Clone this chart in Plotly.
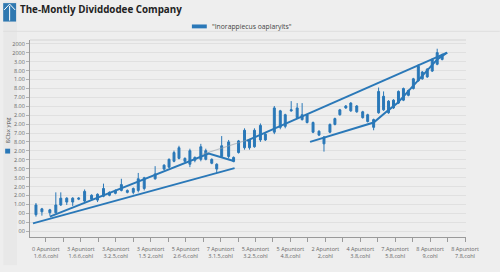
import plotly.graph_objects as go

# ---------------- data ----------------
candle_x = [33, 39, 47, 53, 58, 64, 70, 76, 82, 89, 95, 101, 107, 113, 119, 125, 131, 136, 142,
            153, 162, 167, 172, 177, 183, 188, 193, 199, 204, 210, 215, 220, 227, 232, 237, 243,
            248, 253, 259, 264, 273, 279, 284, 290, 296, 301, 306, 312, 318, 323, 329, 334, 339,
            345, 350, 356, 362, 367, 373, 378, 383, 388, 393, 398, 403, 408, 413, 418, 422, 427,
            432, 437, 442]
body_top = [33, 29, 28, 33, 40, 40, 40, 40, 47, 43, 44, 50, 46, 48, 54, 48, 50, 60, 61,
            65, 74, 80, 87, 92, 81, 89, 82, 93, 89, 80, 75, 94, 98, 82, 99, 110,
            100, 110, 115, 106, 133, 130, 126, 131, 133, 126, 126, 118, 109, 103, 116, 122, 131,
            135, 138, 135, 129, 126, 121, 150, 145, 140, 141, 150, 153, 151, 163, 176, 170, 173,
            183, 190, 188]
body_bot = [23, 26, 25, 25, 33, 36, 36, 39, 37, 39, 38, 42, 43, 45, 48, 46, 46, 48, 50,
            60, 70, 72, 78, 81, 78, 75, 79, 80, 80, 76, 70, 83, 83, 78, 87, 92,
            92, 93, 100, 100, 108, 113, 114, 130, 123, 121, 118, 108, 105, 96, 108, 116, 126,
            133, 130, 129, 123, 119, 113, 128, 131, 128, 133, 138, 141, 146, 153, 161, 163, 165,
            171, 178, 183]
wick_hi = [35, 30, 29, 46, 46, 41, 41, 41, 49, 44, 45, 55, 47, 49, 60, 49, 51, 66, 62,
           73, 75, 81, 89, 94, 82, 91, 83, 96, 91, 81, 76, 104, 100, 83, 100, 112,
           101, 112, 117, 107, 135, 131, 127, 140, 138, 138, 127, 119, 110, 104, 117, 123, 132,
           136, 139, 136, 130, 127, 122, 154, 150, 141, 142, 151, 154, 152, 164, 178, 171, 174,
           184, 194, 189]
wick_lo = [21, 22, 22, 24, 32, 33, 32, 38, 35, 38, 36, 41, 42, 44, 47, 45, 44, 46, 48,
           59, 69, 71, 77, 80, 77, 72, 77, 78, 79, 75, 66, 82, 81, 77, 86, 90,
           90, 92, 98, 99, 106, 111, 112, 129, 122, 120, 117, 107, 104, 88, 107, 115, 125,
           132, 129, 128, 122, 118, 110, 127, 130, 127, 132, 137, 140, 145, 152, 160, 162, 164,
           170, 177, 182]

# trend lines (x, value)
trend_low_x = [30, 233]
trend_low_y = [14, 71]
trend_mid_x = [47, 207, 233]
trend_mid_y = [21, 86, 78]
trend_gray_x = [200, 255]
trend_gray_y = [85, 103]
trend_top_x = [245, 307, 447]
trend_top_y = [99, 127, 190]
trend_right_x = [309, 373, 387, 397, 437, 447]
trend_right_y = [98, 118, 130, 138, 183, 190]

x_tick_vals = [43 + 35.17 * i for i in range(13)]
x_tick_row1 = ["0 Apuntort", "3 Apuntort", "3.Apuntort", "3 Apuntort", "5 Apuntort", "7 Apuntort",
               "5.Apuntort", "5 Apuntort", "2 Apuntort", "4 Apuntort", "7.Apuntort", "8 Apuntort",
               "8 Apuntort"]
x_tick_row2 = ["1.6.6,cohl", "1.6.6,cohl", "3.2.5,cohl", "1.5 2,cohl", "2.6-6,cohl", "3.1.5,cohl",
               "3.2.5,cohl", "4.8,cohl", "2,cohl", "3.8,cohl", "5.8,cohl", "9,cohl", "7.8,cohl"]
y_tick_vals = [199 - 9.19 * i for i in range(22)]
y_tick_text = ["2000", "2000", "3.00", "8.00", "1.00", "8.00", "7.00", "8.00", "2.00", "2.00",
               "7.00", "8.00", "2.00", "2.00", "5.00", "3.00", "2.00", "2.00", "1.00", "00",
               "00", "00"]

BLUE = "#2a78b8"

# ---------------- figure ----------------
L, R, T, B = 27, 34, 40, 29
W, H = 500, 272
pw, ph = W - L - R, H - T - B

def px(x):
    return (x - L) / pw

def py(y):
    return (H - B - y) / ph

fig = go.Figure()

fig.add_trace(go.Candlestick(
    x=candle_x, open=body_bot, close=body_top, high=wick_hi, low=wick_lo,
    increasing=dict(line=dict(color=BLUE, width=1), fillcolor=BLUE),
    decreasing=dict(line=dict(color=BLUE, width=1), fillcolor=BLUE),
    whiskerwidth=0, showlegend=False, hoverinfo="skip"))

for xs, ys, col, w in [(trend_gray_x, trend_gray_y, "rgba(150,160,170,0.6)", 1.2),
                       (trend_low_x, trend_low_y, BLUE, 2),
                       (trend_mid_x, trend_mid_y, BLUE, 2),
                       (trend_top_x, trend_top_y, BLUE, 2),
                       (trend_right_x, trend_right_y, BLUE, 2)]:
    fig.add_trace(go.Scatter(x=xs, y=ys, mode="lines", line=dict(color=col, width=w),
                             showlegend=False, hoverinfo="skip"))

tickfont = dict(family="Open Sans, DejaVu Sans, sans-serif", size=5.5, color="#666")

fig.update_layout(
    width=W, height=H,
    margin=dict(l=L, r=R, t=T, b=B, pad=0),
    paper_bgcolor="#eeeeee",
    plot_bgcolor="rgba(0,0,0,0)",
    showlegend=False,
    xaxis=dict(range=[27, 466], rangeslider=dict(visible=False), showgrid=False,
               zeroline=False, showline=True, linecolor="#9a9a9a", linewidth=1,
               tickmode="array", tickvals=x_tick_vals,
               ticktext=[a + "<br>" + b for a, b in zip(x_tick_row1, x_tick_row2)],
               ticks="outside", ticklen=4, tickcolor="#9a9a9a", tickfont=tickfont,
               ticklabelstandoff=2,
               minor=dict(ticks="outside", ticklen=4, tickcolor="#9a9a9a",
                          tick0=43 + 17.585, dtick=35.17, showgrid=False)),
    yaxis=dict(range=[0, 203], showgrid=True, gridcolor="rgba(0,0,0,0.06)", gridwidth=1,
               zeroline=False, showline=True, linecolor="#9a9a9a", linewidth=1,
               tickmode="array", tickvals=y_tick_vals, ticktext=y_tick_text,
               ticks="outside", ticklen=3, tickcolor="#b0b0b0", tickfont=tickfont),
)

shapes = []
# left-edge shading
shapes.append(dict(type="rect", xref="paper", yref="paper", x0=px(0), x1=px(14),
                   y0=py(272), y1=py(0), fillcolor="rgba(0,0,0,0.025)", line=dict(width=0),
                   layer="below"))
# top border of plot area
shapes.append(dict(type="line", xref="paper", yref="paper", x0=0, x1=1, y0=1, y1=1,
                   line=dict(color="#d4d4d4", width=1)))
# header band separator
shapes.append(dict(type="line", xref="paper", yref="paper", x0=px(0), x1=px(500),
                   y0=py(31), y1=py(31), line=dict(color="#dedede", width=1)))
# icon
shapes.append(dict(type="rect", xref="paper", yref="paper", x0=px(0), x1=px(13),
                   y0=py(21), y1=py(2), fillcolor="#2f78b0", line=dict(width=0)))
shapes.append(dict(type="path", xref="paper", yref="paper",
                   path=f"M {px(1)} {py(9)} L {px(6.5)} {py(3)} L {px(12)} {py(9)}",
                   line=dict(color="white", width=1)))
shapes.append(dict(type="line", xref="paper", yref="paper", x0=px(6.5), x1=px(6.5),
                   y0=py(5), y1=py(20), line=dict(color="white", width=1)))
# legend swatch
shapes.append(dict(type="rect", xref="paper", yref="paper", x0=px(190), x1=px(205),
                   y0=py(28), y1=py(24), fillcolor=BLUE, line=dict(width=0)))
# y title swatch
shapes.append(dict(type="rect", xref="paper", yref="paper", x0=px(2), x1=px(7),
                   y0=py(157), y1=py(152), fillcolor=BLUE, line=dict(width=0)))
fig.update_layout(shapes=shapes)

fig.add_annotation(text="<b>The-Montly Dividdodee Company</b>", xref="paper", yref="paper",
                   x=px(15), y=py(9), xanchor="left", yanchor="middle", showarrow=False,
                   font=dict(family="Open Sans, sans-serif", size=9.8, color="#222"))
fig.add_annotation(text='"Inorappiecus oaplaryits"', xref="paper", yref="paper",
                   x=px(208), y=py(26), xanchor="left", yanchor="middle", showarrow=False,
                   font=dict(family="Open Sans, sans-serif", size=6.8, color="#444"))
fig.add_annotation(text="ßCbx ypg", xref="paper", yref="paper", textangle=-90,
                   x=px(5), y=py(133), xanchor="center", yanchor="middle", showarrow=False,
                   font=dict(family="Open Sans, sans-serif", size=6, color="#555"))

fig.write_html("out.html")
